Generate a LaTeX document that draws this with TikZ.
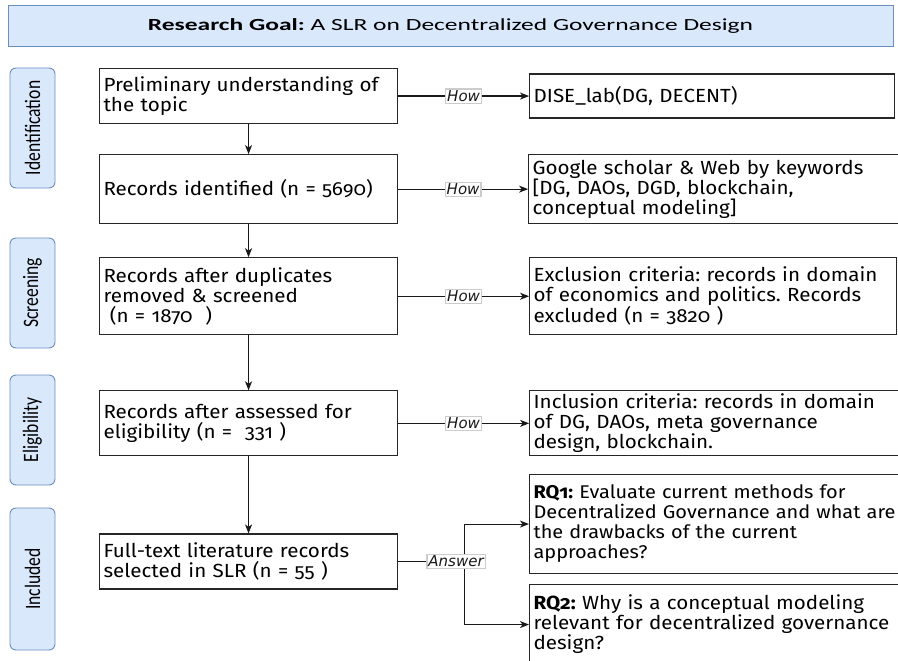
\documentclass[tikz,border=0pt]{standalone}
\usepackage{fontspec}
\setmainfont{Fira Sans}[Numbers=OldStyle, FakeStretch=1.085]
\newfontfamily\goalfont{Carlito}[FakeStretch=1.5]
\newfontfamily\phasefont{Carlito}
\newfontfamily\howfont{DejaVu Sans}
\usetikzlibrary{arrows.meta,positioning}
\frenchspacing

\definecolor{phasefill}{HTML}{DAE8FC}
\definecolor{phasedraw}{HTML}{6C8EBF}

\newcommand{\phasetext}[1]{\scalebox{0.8}[1]{#1}}

\begin{document}
\begin{tikzpicture}[
        x=1pt, y=-1pt,
        font=\fontsize{19}{20}\selectfont,
        goal/.style={rectangle, draw=phasedraw, fill=phasefill, line width=0.9pt,
                     minimum width=885pt, minimum height=41pt,
                     font=\goalfont\fontsize{17}{20}\selectfont},
        phase/.style={rectangle, rounded corners=6pt, draw=phasedraw, fill=phasefill,
                      line width=0.9pt, rotate=90, minimum height=45pt, inner sep=0pt,
                      font=\phasefont\fontsize{22}{24}\selectfont},
        stepbox/.style={rectangle, draw=black!85, line width=1.1pt, align=left,
                        text width=290pt, inner xsep=4pt, inner ysep=2pt},
        resbox/.style={stepbox, text width=#1},
        resbox/.default=357pt,
        arr/.style={-{Stealth[length=9pt, width=7pt, inset=2.5pt]}, line width=1.1pt, black!90},
        howlbl/.style={draw=black!20, fill=white, inner sep=1.5pt,
                       font=\howfont\itshape\fontsize{15}{17}\selectfont}
    ]
        \useasboundingbox (0,0) rectangle (898,661);

        %--- Research goal banner ---
        \node[goal] (goal) at (450.5,25.5) {\textbf{Research Goal:} A SLR on Decentralized Governance Design};

        %--- Phase labels ---
        \node[phase, minimum width=120pt] (ident) at (32.5,128) {\phasetext{Identification}};
        \node[phase, minimum width=110pt] (screen) at (32.5,293) {\phasetext{Screening}};
        \node[phase, minimum width=110pt] (elig) at (32.5,430) {\phasetext{Eligibility}};
        \node[phase, minimum width=142pt] (incl) at (32.5,579) {\phasetext{Included}};

        %--- PRISMA steps ---
        \node[stepbox, anchor=north west, minimum height=55pt] (b1) at (99,68) {Preliminary understanding of\\the topic};
        \node[stepbox, below=30pt of b1, minimum height=69pt] (b2) {Records identified (n = 5690)};
        \node[stepbox, below=33pt of b2, minimum height=77pt] (b3) {Records after duplicates\\removed \& screened\\\ (n = 1870\ \ )};
        \node[stepbox, below=55pt of b3, minimum height=65pt] (b4) {Records after assessed for\\eligibility (n =\ \ 331 )};
        \node[stepbox, below=77pt of b4, minimum height=55pt] (b5) {Full-text literature records\\selected in SLR (n = 55 )};

        %--- How / answers ---
        \node[resbox, right=131pt of b1, minimum height=44pt] (r1) {DISE\_lab(DG, DECENT)};
        \node[resbox=380pt, right=130pt of b2, minimum height=69pt] (r2) {Google scholar \& Web by keywords\\{[}DG, DAOs, DGD, blockchain,\\conceptual modeling{]}};
        \node[resbox=359pt, right=131pt of b3, minimum height=77pt] (r3) {Exclusion criteria: records in domain\\of economics and politics. Records\\excluded (n = 3820 )};
        \node[resbox=380pt, right=131pt of b4, minimum height=65pt] (r4) {Inclusion criteria: records in domain\\of DG, DAOs, meta governance\\design, blockchain.};
        \node[resbox=380pt, anchor=north west, minimum height=99pt, font=\fontsize{18.4}{20}\selectfont] (rq1) at (529,474) {\textbf{RQ1:} Evaluate current methods for\\Decentralized Governance and what are\\the drawbacks of the current\\approaches?};
        \node[resbox=380pt, anchor=north west, minimum height=80pt] (rq2) at (529,584) {\textbf{RQ2:} Why is a conceptual modeling\\relevant for decentralized governance\\design?};

        %--- Arrows: pipeline ---
        \draw[arr] (b1) -- (b2);
        \draw[arr] (b2) -- (b3);
        \draw[arr] (b3) -- (b4);
        \draw[arr] (b4) -- (b5);

        %--- Arrows: how ---
        \draw[arr] (b1.east) -- (b1.east -| r1.west) node[howlbl, midway] {How};
        \draw[arr] (b2.east) -- (b2.east -| r2.west) node[howlbl, midway] {How};
        \draw[arr] (b3.east) -- (b3.east -| r3.west) node[howlbl, midway] {How};
        \draw[arr] (b4.east) -- (b4.east -| r4.west) node[howlbl, midway] {How};

        %--- Answer fork ---
        \coordinate[right=66pt of b5.east] (fork);
        \draw[arr] (fork) |- (rq1.west);
        \draw[arr] (fork) |- (rq2.west);
        \draw[line width=1.1pt, black!90] (b5.east) -- (fork) node[howlbl, xshift=-8pt] {Answer};
    \end{tikzpicture}
\end{document}
